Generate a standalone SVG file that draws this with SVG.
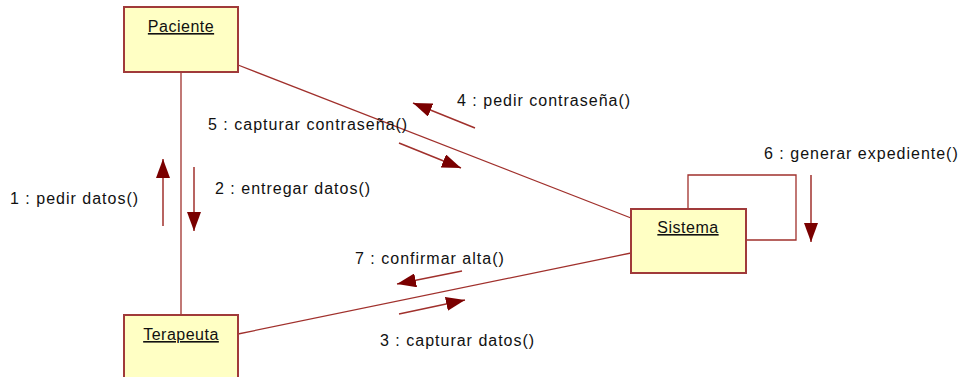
<svg xmlns="http://www.w3.org/2000/svg" width="962" height="377" viewBox="0 0 962 377">
<style>
.box{fill:#ffffc4;stroke:#a03a3a;stroke-width:2}
.ln{stroke:#a0302c;stroke-width:1.3;fill:none}
.msg{stroke:#a0302c;stroke-width:1.5;fill:none}
text{font-family:"Liberation Sans",Arial,sans-serif;font-size:16px;fill:#111;letter-spacing:1px}
.nm{text-anchor:middle;text-decoration:underline;letter-spacing:0.5px}
</style>
<defs>
<marker id="ah" markerUnits="userSpaceOnUse" markerWidth="20" markerHeight="14" refX="19" refY="7" orient="auto">
<path d="M0,0 L19,7 L0,14 Z" fill="#7a0000"/>
</marker>
</defs>
<rect width="962" height="377" fill="#fff"/>
<g id="connectors">
<line class="ln" x1="181" y1="72" x2="181" y2="315"/>
<line class="ln" x1="238" y1="65" x2="631" y2="218"/>
<line class="ln" x1="238" y1="334" x2="631" y2="253"/>
<polyline class="ln" points="688,209 688,175 796,175 796,240 746,240"/>
<line class="msg" x1="163" y1="226" x2="163" y2="159" marker-end="url(#ah)"/>
<line class="msg" x1="194" y1="167" x2="194" y2="231" marker-end="url(#ah)"/>
<line class="msg" x1="475" y1="128" x2="413" y2="103" marker-end="url(#ah)"/>
<line class="msg" x1="399" y1="143" x2="461" y2="168" marker-end="url(#ah)"/>
<line class="msg" x1="811" y1="175" x2="811" y2="242" marker-end="url(#ah)"/>
<line class="msg" x1="462" y1="271" x2="397" y2="284" marker-end="url(#ah)"/>
<line class="msg" x1="399" y1="314" x2="465" y2="300" marker-end="url(#ah)"/>
<text x="457" y="106">4 : pedir contraseña()</text>
<text x="208" y="130">5 : capturar contraseña()</text>
<text x="764" y="159">6 : generar expediente()</text>
<text x="10" y="204">1 : pedir datos()</text>
<text x="215" y="194">2 : entregar datos()</text>
<text x="355" y="264">7 : confirmar alta()</text>
<text x="380" y="346">3 : capturar datos()</text>
</g>
<g id="paciente">
<rect class="box" x="124" y="7" width="114" height="65"/>
<text class="nm" x="181" y="32">Paciente</text>
</g>
<g id="sistema">
<rect class="box" x="631" y="209" width="115" height="64"/>
<text class="nm" x="688" y="233">Sistema</text>
</g>
<g id="terapeuta">
<rect class="box" x="124" y="315" width="114" height="65"/>
<text class="nm" x="181" y="340">Terapeuta</text>
</g>
</svg>
